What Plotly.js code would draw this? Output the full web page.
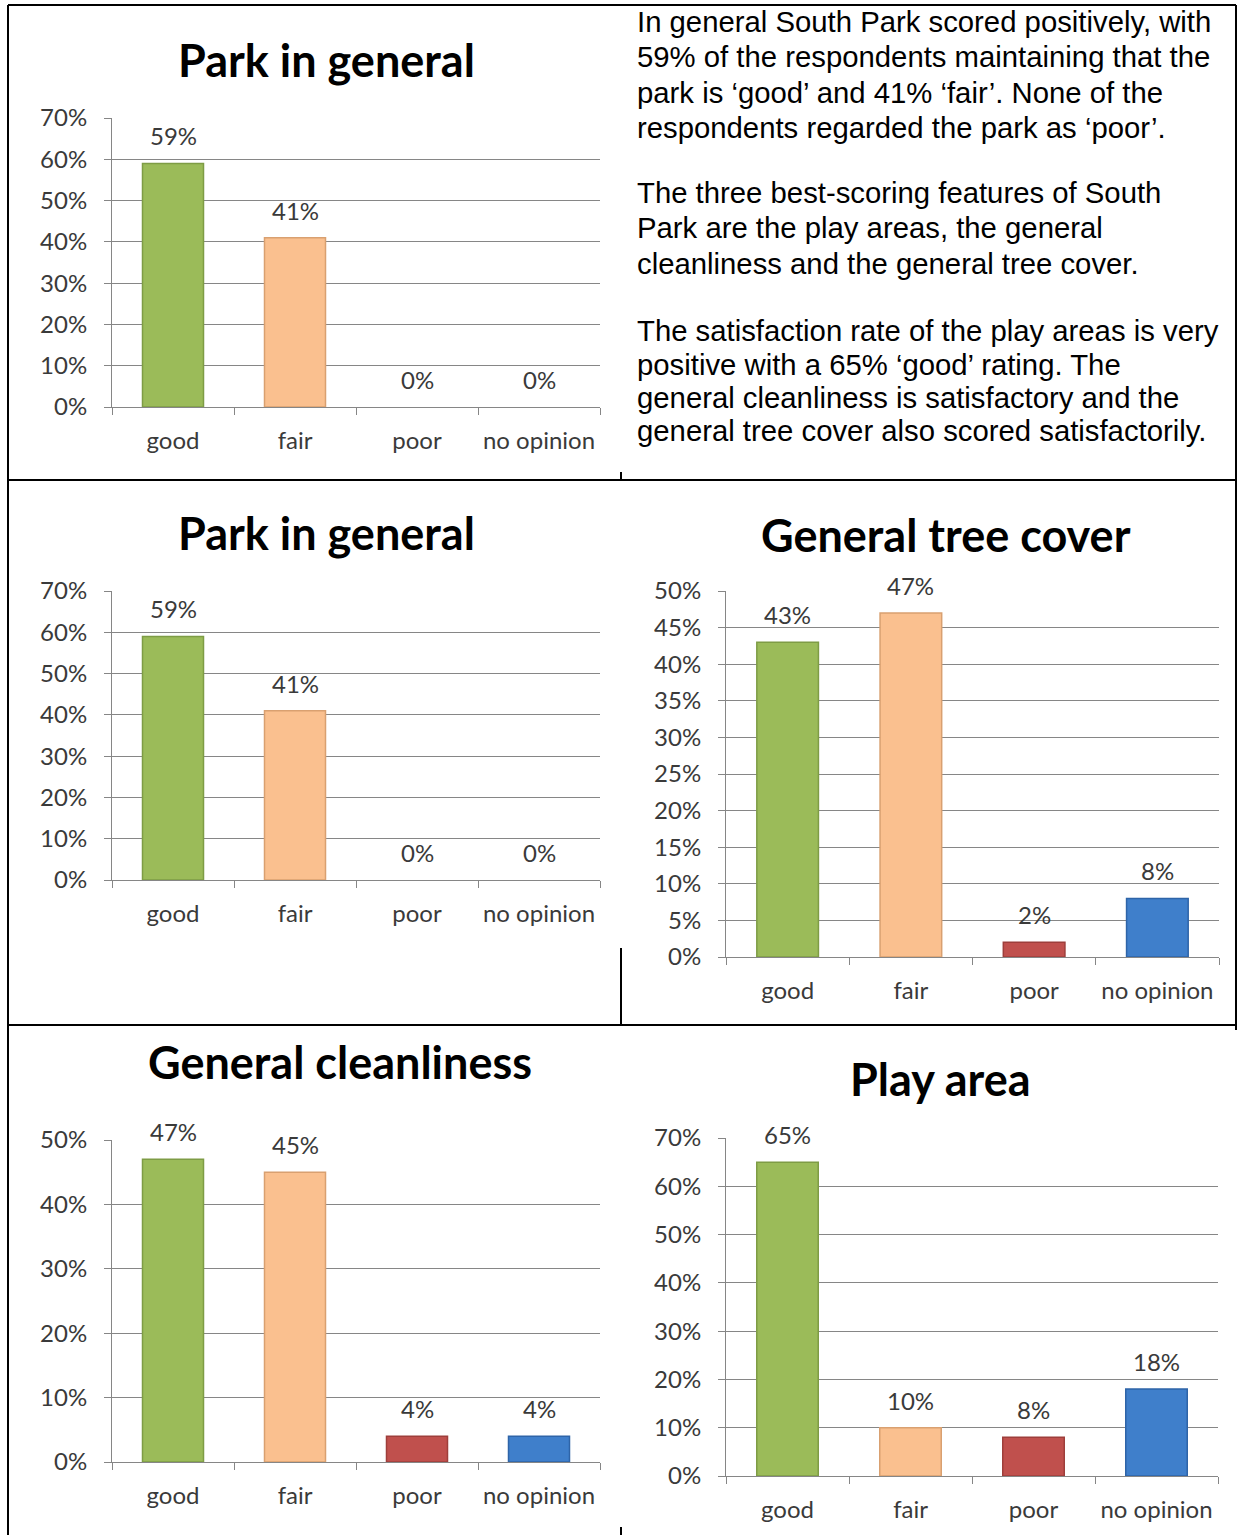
<!DOCTYPE html>
<html><head><meta charset="utf-8">
<script src="https://cdn.plot.ly/plotly-3.0.1.min.js"></script>
<style>html,body{margin:0;padding:0;background:#fff}#chart{width:1241px;height:1535px}</style>
</head><body><div id="chart"></div>
<script>
// ---- data ----
const categories = ['good', 'fair', 'poor', 'no opinion'];
const parkGeneral = [59, 41, 0, 0];
const treeCover = [43, 47, 2, 8];
const cleanliness = [47, 45, 4, 4];
const playArea = [65, 10, 8, 18];
const chartTitles = ['Park in general', 'Park in general', 'General tree cover', 'General cleanliness', 'Play area'];
const paragraphLines = [
  'In general South Park scored positively, with',
  '59% of the respondents maintaining that the',
  'park is \u2018good\u2019 and 41% \u2018fair\u2019. None of the',
  'respondents regarded the park as \u2018poor\u2019.',
  'The three best-scoring features of South',
  'Park are the play areas, the general',
  'cleanliness and the general tree cover.',
  'The satisfaction rate of the play areas is very',
  'positive with a 65% \u2018good\u2019 rating. The',
  'general cleanliness is satisfactory and the',
  'general tree cover also scored satisfactorily.'
];

// ---- styles / layout ----
const W = 1241, H = 1535;
const px = x => x / W;
const py = y => 1 - y / H;
const barColors = ['#9BBB59', '#FAC08F', '#C0504D', '#3F7FCB'];
const barLines = ['#7E9C45', '#D9A070', '#9E3E3B', '#2E64A8'];
const chartFont = 'Lato, "DejaVu Sans", sans-serif';
const labelColor = '#3A3A3A';
const gridColor = '#868686';

const panels = [
  {values: parkGeneral, x0: 112, x1: 600, y0: 118, y1: 407, ymax: 70, dtick: 10, tx: 326, ty: 60},
  {values: parkGeneral, x0: 112, x1: 600, y0: 591, y1: 880, ymax: 70, dtick: 10, tx: 326, ty: 533},
  {values: treeCover, x0: 726, x1: 1219, y0: 591, y1: 957, ymax: 50, dtick: 5, tx: 946, ty: 535},
  {values: cleanliness, x0: 112, x1: 600, y0: 1140, y1: 1462, ymax: 50, dtick: 10, tx: 340, ty: 1062},
  {values: playArea, x0: 726, x1: 1218, y0: 1138, y1: 1476, ymax: 70, dtick: 10, tx: 940, ty: 1079}
];
const lineYs = [22, 57, 92, 127, 193, 228, 263, 330, 364, 397, 430];

const traces = [];
const layout = {
  width: W, height: H,
  margin: {l: 0, r: 0, t: 0, b: 0},
  paper_bgcolor: '#fff', plot_bgcolor: 'rgba(0,0,0,0)',
  showlegend: false,
  annotations: [],
  shapes: []
};

panels.forEach((p, i) => {
  const n = i + 1;
  const xa = 'xaxis' + (n === 1 ? '' : n);
  const ya = 'yaxis' + (n === 1 ? '' : n);
  const xr = 'x' + (n === 1 ? '' : n);
  const yr = 'y' + (n === 1 ? '' : n);
  traces.push({
    type: 'bar', x: categories, y: p.values, xaxis: xr, yaxis: yr,
    width: 0.5,
    marker: {color: barColors, line: {color: barLines, width: p.values.map(v => v > 0 ? 1.5 : 0)}},
    hoverinfo: 'skip'
  });
  layout[xa] = {
    domain: [px(p.x0), px(p.x1)], anchor: yr, type: 'category',
    range: [-0.5, 3.5], showline: true, linecolor: gridColor, linewidth: 1,
    ticks: 'outside', tickson: 'boundaries', ticklen: 7, tickcolor: gridColor,
    showgrid: false, zeroline: false, fixedrange: true,
    ticklabelstandoff: 12,
    tickfont: {family: chartFont, size: 24, color: labelColor}
  };
  layout[ya] = {
    domain: [py(p.y1), py(p.y0)], anchor: xr,
    range: [0, p.ymax], dtick: p.dtick, tick0: 0, ticksuffix: '%',
    showline: true, linecolor: gridColor, linewidth: 1,
    ticks: 'outside', ticklen: 7, tickcolor: gridColor,
    showgrid: true, gridcolor: gridColor, gridwidth: 1, zeroline: false,
    ticklabelstandoff: 12, fixedrange: true,
    tickfont: {family: chartFont, size: 24, color: labelColor}
  };
  categories.forEach((c, k) => {
    layout.annotations.push({
      xref: xr, yref: yr, x: c, y: p.values[k], text: p.values[k] + '%',
      showarrow: false, yanchor: 'bottom', yshift: 11,
      font: {family: chartFont, size: 24, color: labelColor}
    });
  });
  layout.annotations.push({
    xref: 'paper', yref: 'paper', x: px(p.tx), y: py(p.ty),
    xanchor: 'center', yanchor: 'middle', showarrow: false,
    text: '<b>' + chartTitles[i] + '</b>',
    font: {family: chartFont, size: 45, color: '#000'}
  });
});

paragraphLines.forEach((t, i) => {
  layout.annotations.push({
    xref: 'paper', yref: 'paper', x: px(635), y: py(lineYs[i]),
    xanchor: 'left', yanchor: 'middle', showarrow: false, text: t,
    font: {family: '"Liberation Sans", Arial, sans-serif', size: 29.3, color: '#000'}
  });
});

// table borders
function seg(x0, y0, x1, y1, w) {
  layout.shapes.push({type: 'line', xref: 'paper', yref: 'paper',
    x0: px(x0), y0: py(y0), x1: px(x1), y1: py(y1), line: {color: '#000', width: w || 2}});
}
seg(8, 5, 8, 1535);
seg(8, 5, 1236, 5);
seg(1236, 5, 1236, 1030);
seg(8, 480, 1236, 480);
seg(8, 1025, 1236, 1025);
seg(621, 472, 621, 480);
seg(621, 948, 621, 1025);
seg(621, 1527, 621, 1535);

Plotly.newPlot('chart', traces, layout, {displayModeBar: false, staticPlot: true});
</script></body></html>
